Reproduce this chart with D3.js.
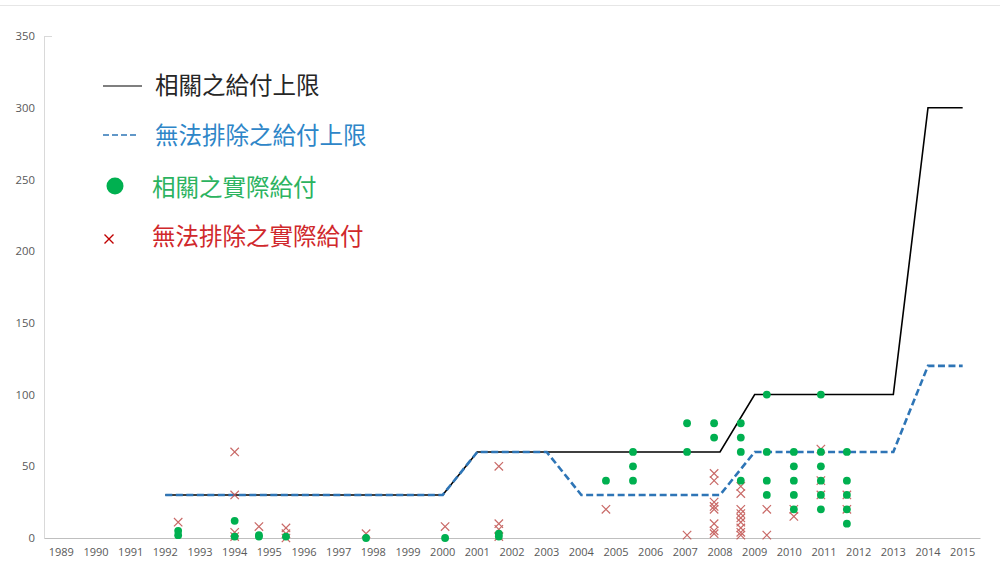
<!DOCTYPE html>
<html><head><meta charset="utf-8">
<script src="https://cdn.jsdelivr.net/npm/d3@7"></script>
<style>body{margin:0;background:#fff}svg{display:block}</style>
</head><body>
<svg id="c" width="1000" height="567"></svg>
<script>
// ---- data ----
const years = d3.range(1989, 2016);
const yTicks = [0, 50, 100, 150, 200, 250, 300, 350];
const capYears = d3.range(1992, 2016);
const relatedCap = [30,30,30,30,30,30,30,30,30, 60,60,60,60,60,60,60,60, 100,100,100,100,100, 300,300];
const unexCap    = [30,30,30,30,30,30,30,30,30, 60,60,60, 30,30,30,30,30, 60,60,60,60,60, 120,120];
const relatedPaid = [
  [1992.37,5],[1992.37,2],
  [1994.0,12],[1994.0,1],
  [1994.7,2],[1994.7,1],
  [1995.48,1],
  [1997.79,0],
  [2000.07,0],
  [2001.62,3],[2001.62,1],
  [2004.71,40],
  [2005.49,60],[2005.49,50],[2005.49,40],
  [2007.05,80],[2007.05,60],
  [2007.83,80],[2007.83,70],
  [2008.6,80],[2008.6,70],[2008.6,60],[2008.6,40],
  [2009.35,100],[2009.35,60],[2009.35,40],[2009.35,30],
  [2010.13,60],[2010.13,50],[2010.13,40],[2010.13,30],[2010.13,20],
  [2010.91,100],[2010.91,60],[2010.91,50],[2010.91,40],[2010.91,30],[2010.91,20],
  [2011.66,60],[2011.66,40],[2011.66,30],[2011.66,20],[2011.66,10]
];
const unexPaid = [
  [1992.37,11],
  [1994.0,60],[1994.0,30],[1994.0,4],[1994.0,1],
  [1994.7,8],
  [1995.48,7],[1995.48,3],[1995.48,0],
  [1997.79,3],
  [2000.07,8],
  [2001.62,50],[2001.62,10],[2001.62,6],[2001.62,1],
  [2004.71,20],
  [2007.05,2],
  [2007.83,45],[2007.83,40],[2007.83,25],[2007.83,22],[2007.83,20],[2007.83,10],[2007.83,5],[2007.83,3],
  [2008.6,36],[2008.6,31],[2008.6,20],[2008.6,17],[2008.6,14],[2008.6,11],[2008.6,7],[2008.6,4],[2008.6,2],
  [2009.35,20],[2009.35,2],
  [2010.13,20],[2010.13,15],
  [2010.91,62],[2010.91,40],[2010.91,30],
  [2011.66,30],[2011.66,20]
];
const legendLabels = ["相關之給付上限","無法排除之給付上限","相關之實際給付","無法排除之實際給付"];

// ---- layout ----
const svg = d3.select("#c");
const L = 44, R = 980, T = 36, B = 538;
const xBand = d3.scaleBand().domain(years).range([L, R]);
const xLin = d3.scaleLinear().domain([1988.5, 2015.5]).range([L, R]);
const y = d3.scaleLinear().domain([0, 350]).range([B, T]);
const tickFont = "'Open Sans','Noto Sans',sans-serif";
const cjk = "'Noto Sans CJK TC','Noto Sans CJK SC',sans-serif";

// top frame line
svg.append("line").attr("x1",0).attr("x2",1000).attr("y1",5.5).attr("y2",5.5).attr("stroke","#e6e6e6");

// y axis
const yAxis = svg.append("g").attr("transform",`translate(${L},0)`)
  .call(d3.axisLeft(y).tickValues(yTicks).tickSize(0).tickPadding(9));
yAxis.select(".domain").attr("stroke","#d9d9d9");
yAxis.selectAll("text").attr("font-family",tickFont).attr("font-size",11.3).attr("fill","#595959");
svg.append("line").attr("x1",L).attr("x2",L+8).attr("y1",T+0.5).attr("y2",T+0.5).attr("stroke","#d9d9d9");

// x axis
const xAxis = svg.append("g").attr("transform",`translate(0,${B})`)
  .call(d3.axisBottom(xBand).tickSize(0).tickPadding(10).tickSizeOuter(0));
xAxis.select(".domain").attr("stroke","#bfbfbf");
xAxis.selectAll("text").attr("font-family",tickFont).attr("font-size",11).attr("fill","#595959");

// lines
const line = d3.line().x((d,i)=>xLin(capYears[i])).y(d=>y(d));
svg.append("path").datum(relatedCap).attr("d",line).attr("fill","none")
  .attr("stroke","#000").attr("stroke-width",1.6);
svg.append("path").datum(unexCap).attr("d",line).attr("fill","none")
  .attr("stroke","#2e75b6").attr("stroke-width",2.6).attr("stroke-dasharray","7,3.5");

// red x markers
const xs = 4.2;
const gx = svg.append("g").attr("stroke","#c0504d").attr("stroke-width",1.2).attr("opacity",0.85);
gx.selectAll("path").data(unexPaid).join("path")
  .attr("d", d => {const cx=xLin(d[0]), cy=y(d[1]);
    return `M${cx-xs},${cy-xs}L${cx+xs},${cy+xs}M${cx-xs},${cy+xs}L${cx+xs},${cy-xs}`;});

// green dots
svg.append("g").selectAll("circle").data(relatedPaid).join("circle")
  .attr("cx",d=>xLin(d[0])).attr("cy",d=>y(d[1])).attr("r",3.9).attr("fill","#00b050");

// legend
const lg = svg.append("g");
lg.append("line").attr("x1",103).attr("x2",142).attr("y1",86).attr("y2",86).attr("stroke","#000").attr("stroke-width",1.2);
lg.append("line").attr("x1",103).attr("x2",136).attr("y1",135).attr("y2",135).attr("stroke","#2e75b6").attr("stroke-width",1.6).attr("stroke-dasharray","6,3");
lg.append("circle").attr("cx",115).attr("cy",186).attr("r",8.5).attr("fill","#00b050");
lg.append("path").attr("d","M104.5,234.5L113.5,243.5M104.5,243.5L113.5,234.5").attr("stroke","#c00000").attr("stroke-width",1.4);
const lcols = ["#262626","#2e86c8","#2cb35f","#d0282c"];
const lx = [155,155,152,152], ly = [86,136,188,237];
legendLabels.forEach((t,i)=>{
  lg.append("text").attr("x",lx[i]).attr("y",ly[i]).attr("dy","0.36em")
    .attr("font-family",cjk).attr("font-size",23.5).attr("fill",lcols[i]).text(t);
});
</script>
</body></html>
